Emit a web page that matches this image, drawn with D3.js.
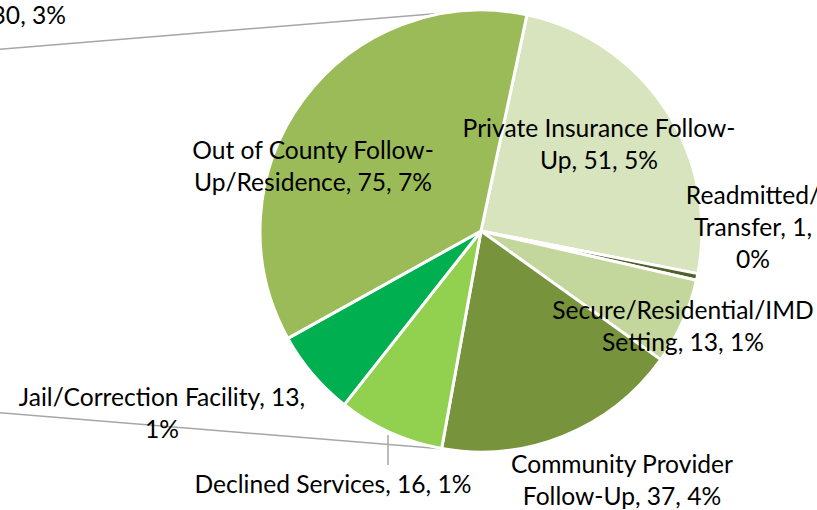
<!DOCTYPE html>
<html>
<head>
<meta charset="utf-8">
<script src="https://cdn.jsdelivr.net/npm/d3@7"></script>
<style>
  body { margin: 0; background: #fff; }
  svg text { font-family: Lato, "Open Sans", sans-serif; fill: #000; }
</style>
</head>
<body>
<svg id="chart" width="817" height="510"></svg>
<script>
// secondary pie of the discharge outcome chart
const categories = [
	"Private Insurance Follow-Up",
	"Readmitted/Transfer",
	"Secure/Residential/IMD Setting",
	"Community Provider Follow-Up",
	"Declined Services",
	"Jail/Correction Facility",
	"Out of County Follow-Up/Residence"
];
const counts = [51, 1, 13, 37, 16, 13, 75];
const percents = ["5%", "0%", "1%", "4%", "1%", "1%", "7%"];

// how each label wraps in the picture
const labelLines = [
	["Private Insurance Follow-", "Up, 51, 5%"],
	["Readmitted/", "Transfer, 1,", "0%"],
	["Secure/Residential/IMD", "Setting, 13, 1%"],
	["Community Provider", "Follow-Up, 37, 4%"],
	["Declined Services, 16, 1%"],
	["Jail/Correction Facility, 13,", "1%"],
	["Out of County Follow-", "Up/Residence, 75, 7%"]
];

const colors = ["#D7E4BD", "#4F6228", "#C3D69B", "#77933C", "#92D050", "#00B050", "#9BBB59"];
// label anchor (center of first line)
const labelPos = [[599, 128], [753, 195], [683, 310], [622, 464], [333, 484], [162, 397], [313, 150]];

const svg = d3.select("#chart");
const cx = 481, cy = 231, r = 221;
const lineH = 32;

// connector lines from the primary pie (off to the left)
const connectors = [[[-10, 50], [cx, cy - r]], [[-10, 412], [cx, cy + r]]];
svg.selectAll("line.conn")
	.data(connectors)
	.enter().append("line")
	.attr("class", "conn")
	.attr("x1", d => d[0][0]).attr("y1", d => d[0][1])
	.attr("x2", d => d[1][0]).attr("y2", d => d[1][1])
	.attr("stroke", "#A6A6A6")
	.attr("stroke-width", 1.5);

const start = 12 * Math.PI / 180;
const pie = d3.pie().sort(null).startAngle(start).endAngle(start + 2 * Math.PI);
const arc = d3.arc().innerRadius(0).outerRadius(r);

const g = svg.append("g").attr("transform", "translate(" + cx + "," + cy + ")");
g.selectAll("path")
	.data(pie(counts))
	.enter().append("path")
	.attr("d", arc)
	.attr("fill", (d, i) => colors[i])
	.attr("stroke", "#fff")
	.attr("stroke-width", 3)
	.attr("stroke-linejoin", "round");

// leader line for declined services
svg.append("line")
	.attr("x1", 388).attr("y1", 435)
	.attr("x2", 388).attr("y2", 465)
	.attr("stroke", "#A6A6A6")
	.attr("stroke-width", 1.5);

// the cut-off label of the primary pie
svg.append("text")
	.attr("x", 66).attr("y", 15)
	.attr("dy", "0.35em")
	.attr("text-anchor", "end")
	.style("font-size", "24.6px")
	.text("30, " + "3%");

labelLines.forEach(function(lines, i) {
	let t = svg.append("text")
		.attr("text-anchor", "middle")
		.style("font-size", "24.6px");
	lines.forEach(function(line, j) {
		t.append("tspan")
			.attr("x", labelPos[i][0])
			.attr("y", labelPos[i][1] + j * lineH)
			.attr("dy", "0.35em")
			.text(line);
	});
});
</script>
</body>
</html>
